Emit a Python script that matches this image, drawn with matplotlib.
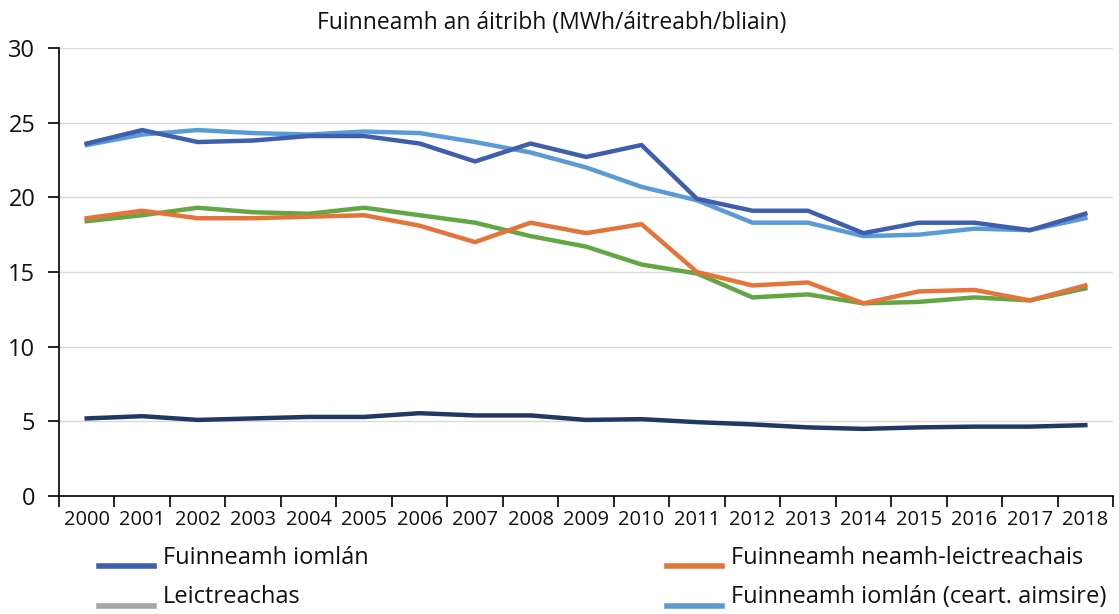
import matplotlib
matplotlib.use("Agg")
import matplotlib.pyplot as plt
from matplotlib.lines import Line2D
import numpy as np

plt.rcParams['font.family'] = ['Open Sans', 'DejaVu Sans']

# data (MWh per dwelling per year)
years = [str(y) for y in range(2000, 2019)]
total = [23.6, 24.5, 23.7, 23.8, 24.1, 24.1, 23.6, 22.4, 23.6, 22.7, 23.5,
         19.9, 19.1, 19.1, 17.6, 18.3, 18.3, 17.8, 18.9]
total_weather = [23.5, 24.2, 24.5, 24.3, 24.2, 24.4, 24.3, 23.7, 23.0, 22.0, 20.7,
                 19.8, 18.3, 18.3, 17.4, 17.5, 17.9, 17.8, 18.6]
non_elec = [18.6, 19.1, 18.6, 18.6, 18.7, 18.8, 18.1, 17.0, 18.3, 17.6, 18.2,
            15.0, 14.1, 14.3, 12.9, 13.7, 13.8, 13.1, 14.1]
non_elec_weather = [18.4, 18.8, 19.3, 19.0, 18.9, 19.3, 18.8, 18.3, 17.4, 16.7, 15.5,
                    14.9, 13.3, 13.5, 12.9, 13.0, 13.3, 13.1, 13.9]
elec = [5.2, 5.35, 5.1, 5.2, 5.3, 5.3, 5.55, 5.4, 5.4, 5.1, 5.15,
        4.95, 4.8, 4.6, 4.5, 4.6, 4.65, 4.65, 4.75]

c_total = '#3f5fae'
c_weather = '#5b9bd5'
c_orange = '#e4743a'
c_green = '#62a744'
c_navy = '#203864'
c_grey = '#a5a5a5'

W, H = 1119, 614
fig = plt.figure(figsize=(W / 100, H / 100), dpi=100)
ax = fig.add_axes([0.0527, 0.192, 0.942, 0.730])

x = np.arange(len(years))
ax.plot(x, elec, color=c_navy, lw=3.2)
ax.plot(x, non_elec_weather, color=c_green, lw=3.2)
ax.plot(x, non_elec, color=c_orange, lw=3.2)
ax.plot(x, total_weather, color=c_weather, lw=3.2)
ax.plot(x, total, color=c_total, lw=3.2)

ax.set_xlim(-0.5, len(years) - 0.5)
ax.set_ylim(0, 30)
ax.set_yticks(range(0, 31, 5))
ax.grid(axis='y', color='#d9d9d9', lw=1)
ax.set_axisbelow(True)

ax.set_xticks(x)
ax.set_xticklabels(years, fontsize=14.5, color='#111111')
ax.set_xticks(np.arange(-0.5, len(years)), minor=True)
ax.tick_params(axis='x', which='major', length=0, pad=10)
ax.tick_params(axis='x', which='minor', length=8, width=1.2, color='black')
ax.tick_params(axis='y', length=8, width=1.2, labelsize=17, pad=9, labelcolor='#111111')

for s in ['top', 'right']:
    ax.spines[s].set_visible(False)
ax.spines['left'].set_linewidth(1.2)
ax.spines['bottom'].set_linewidth(1.2)

fig.text(0.493, 0.962, 'Fuinneamh an áitribh (MWh/áitreabh/bliain)',
         ha='center', va='center', fontsize=16.5, color='#111111')

# legend drawn by hand: handles sit a little below their labels, as in the original
legend_items = [
    ('Fuinneamh iomlán', c_total, 99, 558, 566),
    ('Leictreachas', c_grey, 99, 597, 606),
    ('Fuinneamh neamh-leictreachais', c_orange, 667, 558, 566),
    ('Fuinneamh iomlán (ceart. aimsire)', c_weather, 667, 597, 606),
]
for label, col, px, ty, ly in legend_items:
    fig.add_artist(Line2D([px / W, (px + 55) / W], [1 - ly / H, 1 - ly / H],
                          color=col, lw=4, transform=fig.transFigure))
    fig.text((px + 64) / W, 1 - ty / H, label, fontsize=17, va='center',
             ha='left', color='#111111')

fig.savefig('out.png', dpi=100)
